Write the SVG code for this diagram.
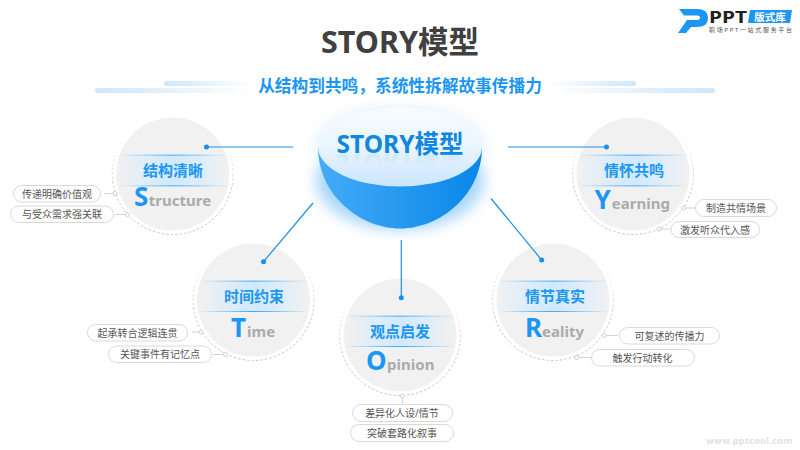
<svg xmlns="http://www.w3.org/2000/svg" xmlns:xlink="http://www.w3.org/1999/xlink" width="800" height="450" viewBox="0 0 800 450">
<style>
text{font-family:"Noto Sans","Noto Sans CJK SC",sans-serif}
.disc{fill:#f1f1f1}
.ring{fill:#fff;stroke:url(#ringG);stroke-width:1;stroke-dasharray:2.5 2}
.band{fill:url(#bandG)}
.edge{fill:url(#edgeG)}
.ttl{font-size:15px;font-weight:700;fill:#1c96f3;text-anchor:middle}
.big{font-size:26px;font-weight:700;fill:#1c96f3}
.small{font-size:15px;font-weight:700;fill:#ababab}
.pill{fill:#fff;stroke:#d9d9d9;stroke-width:1}
.ptx{font-size:10px;fill:#555;text-anchor:middle}
.tick{stroke:#d4d4d4;stroke-width:1;fill:none}
.knob{fill:#fff;stroke:#cfcfcf;stroke-width:1}
.con{stroke:#1c8fe6;stroke-width:1.2;fill:none}
.dot{fill:#1a8fe8}
</style>
<defs>
<linearGradient id="ringG" x1="0" y1="0" x2="0" y2="1"><stop offset="0.15" stop-color="#d0d0d0" stop-opacity="0"/><stop offset="0.65" stop-color="#c6c6c6"/><stop offset="1" stop-color="#c6c6c6"/></linearGradient>
<linearGradient id="bandG"><stop offset="0" stop-color="#cfe9ff" stop-opacity="0"/><stop offset="0.5" stop-color="#cfe9ff"/><stop offset="1" stop-color="#cfe9ff" stop-opacity="0"/></linearGradient>
<linearGradient id="edgeG"><stop offset="0" stop-color="#1c96f3" stop-opacity="0"/><stop offset="0.5" stop-color="#1c96f3"/><stop offset="1" stop-color="#1c96f3" stop-opacity="0"/></linearGradient>
<linearGradient id="barL"><stop offset="0" stop-color="#cfe6f8"/><stop offset="1" stop-color="#cfe6f8" stop-opacity="0"/></linearGradient>
<linearGradient id="barR"><stop offset="0" stop-color="#cfe6f8" stop-opacity="0"/><stop offset="1" stop-color="#cfe6f8"/></linearGradient>
<linearGradient id="bowlG"><stop offset="0" stop-color="#45abf8"/><stop offset="1" stop-color="#0887e8"/></linearGradient>
<linearGradient id="lidG" x1="0" y1="0" x2="0" y2="1"><stop offset="0" stop-color="#f8fcff"/><stop offset="0.5" stop-color="#eaf5fe"/><stop offset="1" stop-color="#c9e5fc"/></linearGradient>
<filter id="glow" x="-30%" y="-30%" width="160%" height="160%"><feGaussianBlur stdDeviation="7"/></filter>
<filter id="soft" x="-10%" y="-50%" width="120%" height="200%"><feGaussianBlur stdDeviation="0.8"/></filter>
<linearGradient id="fadeG" x1="0" y1="0" x2="0" y2="1"><stop offset="0" stop-color="#fff"/><stop offset="1" stop-color="#000"/></linearGradient>
<mask id="reflMask" maskUnits="userSpaceOnUse" x="320" y="153" width="160" height="12"><rect x="320" y="153" width="160" height="12" fill="url(#fadeG)"/></mask>
</defs>
<rect width="800" height="450" fill="#fff"/>

<g id="header">
<text x="400" y="52.500" font-size="30.500" font-weight="700" fill="#404040" text-anchor="middle">STORY模型</text>
<rect x="164" y="81" width="90" height="5" rx="2.500" fill="url(#barL)"/>
<rect x="95" y="88" width="160" height="5" rx="2.500" fill="url(#barL)"/>
<rect x="546" y="81" width="90" height="5" rx="2.500" fill="url(#barR)"/>
<rect x="545" y="88" width="170" height="5" rx="2.500" fill="url(#barR)"/>
<text x="400" y="92" font-size="16.700" font-weight="700" fill="#1c96f3" text-anchor="middle">从结构到共鸣，系统性拆解故事传播力</text>
</g>

<g id="logo">
<path d="M679 9H697Q708 9 708 18Q708 27 697 27H691L686 33H678L687 20H697Q700 20 700 17.500Q700 15.500 697 15.500H684Z" fill="#1c96f3"/>
<text x="709" y="22.500" font-size="15.500" font-weight="700" fill="#222" textLength="38" lengthAdjust="spacingAndGlyphs">PPT</text>
<path d="M750 10H792L790 23H748Z" fill="#1c96f3"/>
<text x="770" y="21" font-size="10.500" font-weight="700" fill="#fff" text-anchor="middle">版式库</text>
<text x="709" y="32" font-size="6" fill="#555" textLength="83">职场PPT一站式服务平台</text>
</g>

<g id="hub">
<ellipse cx="400" cy="180" rx="84" ry="50" fill="#6fbdf8" opacity="0.6" filter="url(#glow)"/>
<ellipse cx="400" cy="144" rx="84" ry="38" fill="#d8edfd" opacity="0.7" filter="url(#glow)"/>
<path d="M318 147C318 195 360 228.500 400 228.500C440 228.500 482 195 482 147Z" fill="url(#bowlG)"/>
<ellipse cx="400" cy="147" rx="82" ry="39.500" fill="url(#lidG)"/>
<text id="hubT" x="400" y="153" font-size="24.500" font-weight="700" fill="#0f86e0" text-anchor="middle">STORY模型</text>
<g mask="url(#reflMask)"><use xlink:href="#hubT" href="#hubT" transform="translate(0 307) scale(1 -1)" opacity="0.12" filter="url(#soft)"/></g>
</g>

<g id="structure">
<circle class="ring" cx="172.700" cy="174" r="60.500"/><circle class="disc" cx="172.700" cy="174" r="56.500"/>
<rect class="band" x="117" y="155" width="112" height="31"/><rect class="edge" x="117" y="154.700" width="112" height="0.800"/><rect class="edge" x="117" y="185.500" width="112" height="0.800"/>
<text class="ttl" x="173" y="175.500">结构清晰</text>
<text x="134" y="206"><tspan class="big">S</tspan><tspan class="small" dx="0.500">tructure</tspan></text>
<path class="tick" d="M104 193.500H113M115 214.500H125"/><circle class="knob" cx="115" cy="193.500" r="2"/><circle class="knob" cx="127.500" cy="214.500" r="2"/>
<rect class="pill" x="13.500" y="185.500" width="87" height="16.500" rx="8.250"/><text class="ptx" x="57" y="197.500">传递明确价值观</text>
<rect class="pill" x="10.500" y="206" width="103" height="16.500" rx="8.250"/><text class="ptx" x="62" y="218">与受众需求强关联</text>
</g>

<g id="yearning">
<circle class="ring" cx="633" cy="174" r="60.500"/><circle class="disc" cx="633" cy="174" r="56.500"/>
<rect class="band" x="577" y="155" width="112" height="31"/><rect class="edge" x="577" y="154.700" width="112" height="0.800"/><rect class="edge" x="577" y="185.500" width="112" height="0.800"/>
<text class="ttl" x="634" y="175.500">情怀共鸣</text>
<text x="594.500" y="209"><tspan class="big">Y</tspan><tspan class="small" dx="1">earning</tspan></text>
<path class="tick" d="M686 208H695M661 229H671"/><circle class="knob" cx="683.500" cy="208" r="2"/><circle class="knob" cx="659" cy="229" r="2"/>
<rect class="pill" x="695.500" y="199.500" width="81" height="17" rx="8.500"/><text class="ptx" x="736" y="212">制造共情场景</text>
<rect class="pill" x="671" y="221.500" width="88.500" height="16" rx="8"/><text class="ptx" x="715" y="233.500">激发听众代入感</text>
</g>

<g id="time">
<circle class="ring" cx="253.500" cy="300" r="60.500"/><circle class="disc" cx="253.500" cy="300" r="56.500"/>
<rect class="band" x="198" y="281" width="112" height="31"/><rect class="edge" x="198" y="280.700" width="112" height="0.800"/><rect class="edge" x="198" y="311" width="112" height="0.800"/>
<text class="ttl" x="254" y="301.500">时间约束</text>
<text x="231" y="337"><tspan class="big">T</tspan><tspan class="small" dx="1">ime</tspan></text>
<path class="tick" d="M192 332H199M213 354.500H223"/><circle class="knob" cx="201" cy="332" r="2"/><circle class="knob" cx="225.500" cy="354.500" r="2"/>
<rect class="pill" x="87.500" y="324.500" width="100" height="16.500" rx="8.250"/><text class="ptx" x="137.500" y="336.500">起承转合逻辑连贯</text>
<rect class="pill" x="108.500" y="346" width="103" height="16.500" rx="8.250"/><text class="ptx" x="160" y="358">关键事件有记忆点</text>
</g>

<g id="opinion">
<circle class="ring" cx="400" cy="335" r="60.500"/><circle class="disc" cx="400" cy="335" r="56.500"/>
<rect class="band" x="344" y="316" width="112" height="31"/><rect class="edge" x="344" y="315.700" width="112" height="0.800"/><rect class="edge" x="344" y="346" width="112" height="0.800"/>
<text class="ttl" x="400" y="336.500">观点启发</text>
<text x="366" y="370"><tspan class="big">O</tspan><tspan class="small" dx="0.500">pinion</tspan></text>
<path class="tick" d="M402.500 398V404"/><circle class="knob" cx="402.500" cy="396" r="2"/>
<rect class="pill" x="352.500" y="404.500" width="100" height="17" rx="8.500"/><text class="ptx" x="402" y="417">差异化人设/情节</text>
<rect class="pill" x="350.500" y="424.500" width="103" height="17" rx="8.500"/><text class="ptx" x="402" y="437">突破套路化叙事</text>
</g>

<g id="reality">
<circle class="ring" cx="553" cy="300" r="60.500"/><circle class="disc" cx="553" cy="300" r="56.500"/>
<rect class="band" x="497" y="281" width="112" height="31"/><rect class="edge" x="497" y="280.700" width="112" height="0.800"/><rect class="edge" x="497" y="311" width="112" height="0.800"/>
<text class="ttl" x="555" y="301.500">情节真实</text>
<text x="525" y="337"><tspan class="big">R</tspan><tspan class="small">eality</tspan></text>
<path class="tick" d="M607 335.500H618M579 357.500H591"/><circle class="knob" cx="604.500" cy="335.500" r="2"/><circle class="knob" cx="576.500" cy="357.500" r="2"/>
<rect class="pill" x="619.500" y="327.500" width="100" height="16.500" rx="8.250"/><text class="ptx" x="669.500" y="339.500">可复述的传播力</text>
<rect class="pill" x="591.500" y="349.500" width="103" height="16.500" rx="8.250"/><text class="ptx" x="642.500" y="361.500">触发行动转化</text>
</g>

<g id="connectors">
<path class="con" d="M206 147H293"/><circle class="dot" cx="206.500" cy="147" r="2.500"/>
<path class="con" d="M508 147H606"/><circle class="dot" cx="606.500" cy="147" r="2.500"/>
<path class="con" d="M313 203L263.500 261.700"/><circle class="dot" cx="263.500" cy="261.700" r="2.500"/>
<path class="con" d="M401.300 240V298"/><circle class="dot" cx="401.300" cy="297.700" r="2.500"/>
<path class="con" d="M491 198.500L541.700 260"/><circle class="dot" cx="541.700" cy="260" r="2.500"/>
</g>

<text id="watermark" x="706" y="444" font-size="9" fill="#e2e2e2" font-weight="700" textLength="86">www.pptcool.com</text>
</svg>
